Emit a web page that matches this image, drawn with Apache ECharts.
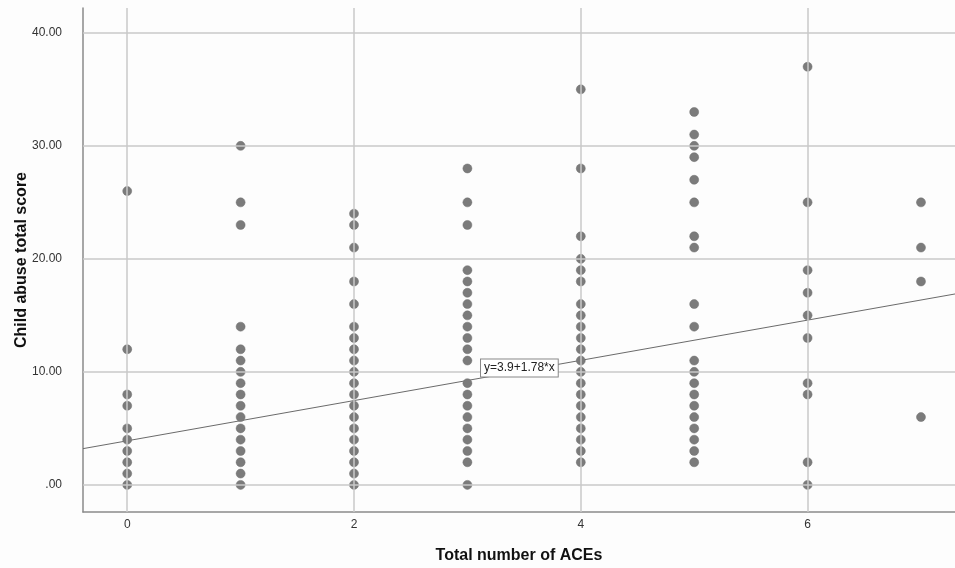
<!DOCTYPE html>
<html>
<head>
<meta charset="utf-8">
<script src="https://cdn.jsdelivr.net/npm/echarts@6/dist/echarts.min.js"></script>
<style>
  html, body { margin: 0; padding: 0; background: #fdfdfd; }
  #main { width: 955px; height: 568px; }
</style>
</head>
<body>
<div id="main"></div>
<script>
// scores, one list per number of ACEs
const aces = [0, 1, 2, 3, 4, 5, 6, 7];
const scores0 = [26, 12, 8, 7, 5, 4, 3, 2, 1, 0];
const scores1 = [30, 25, 23, 14, 12, 11, 10, 9, 8, 7, 6, 5, 4, 3, 2, 1, 0];
const scores2 = [24, 23, 21, 18, 16, 14, 13, 12, 11, 10, 9, 8, 7, 6, 5, 4, 3, 2, 1, 0];
const scores3 = [28, 25, 23, 19, 18, 17, 16, 15, 14, 13, 12, 11, 9, 8, 7, 6, 5, 4, 3, 2, 0];
const scores4 = [35, 28, 22, 20, 19, 18, 16, 15, 14, 13, 12, 11, 10, 9, 8, 7, 6, 5, 4, 3, 2];
const scores5 = [33, 31, 30, 29, 27, 25, 22, 21, 16, 14, 11, 10, 9, 8, 7, 6, 5, 4, 3, 2];
const scores6 = [37, 25, 19, 17, 15, 13, 9, 8, 2, 0];
const scores7 = [25, 21, 18, 6];
const allScores = [scores0, scores1, scores2, scores3, scores4, scores5, scores6, scores7];

// fit line from the chart's label
const intercept = 3.9;
const slope = 1.78;
const fitLabel = 'y=3.9+1.78*x';

const xTicks = [0, 2, 4, 6];
const yTicks = [0, 10, 20, 30, 40];

const xMin = -0.39, xMax = 7.3;
const yMin = -2.4, yMax = 42.2;

const points = [];
aces.forEach(function (a, i) {
  allScores[i].forEach(function (s) { points.push([a, s]); });
});

const fitLine = [[xMin, intercept + slope * xMin], [xMax, intercept + slope * xMax]];

const gridColor = '#c9c9c9';
const myChart = echarts.init(document.getElementById('main'));
myChart.setOption({
  animation: false,
  backgroundColor: '#fdfdfd',
  grid: { left: 83, right: 0, top: 8, bottom: 56, outerBoundsMode: 'none' },
  xAxis: {
    type: 'value',
    min: xMin,
    max: xMax,
    splitNumber: 4,
    name: 'Total number of ACEs',
    nameLocation: 'middle',
    nameGap: 36,
    nameMoveOverlap: false,
    nameTextStyle: { fontFamily: 'Liberation Sans', fontWeight: 'bold', fontSize: 16, color: '#111' },
    axisLine: { show: true, onZero: false, lineStyle: { color: '#8a8a8a', width: 1.5 } },
    axisTick: { show: false },
    splitLine: { show: false },
    axisLabel: {
      margin: 7,
      fontFamily: 'Liberation Sans Narrow, Liberation Sans',
      fontSize: 12,
      color: '#333',
      showMinLabel: false,
      showMaxLabel: false,
      formatter: function (v) { return xTicks.indexOf(v) >= 0 ? String(v) : ''; }
    }
  },
  yAxis: {
    type: 'value',
    min: yMin,
    max: yMax,
    splitNumber: 5,
    name: 'Child abuse total score',
    nameLocation: 'middle',
    nameGap: 53,
    nameMoveOverlap: false,
    nameTextStyle: { fontFamily: 'Liberation Sans', fontWeight: 'bold', fontSize: 16, color: '#111' },
    axisLine: { show: true, onZero: false, lineStyle: { color: '#8a8a8a', width: 1.5 } },
    axisTick: { show: false },
    splitLine: { show: false },
    axisLabel: {
      margin: 21,
      fontFamily: 'Liberation Sans Narrow, Liberation Sans',
      fontSize: 12,
      color: '#333',
      showMinLabel: false,
      showMaxLabel: false,
      formatter: function (v) {
        if (yTicks.indexOf(v) < 0) return '';
        return v === 0 ? '.00' : v.toFixed(2);
      }
    }
  },
  series: [
    {
      type: 'line',
      data: fitLine,
      symbol: 'none',
      silent: true,
      z: 3,
      lineStyle: { color: '#6a6a6a', width: 1 },
      markLine: {
        silent: true,
        symbol: 'none',
        label: { show: false },
        lineStyle: { color: gridColor, width: 1.5, type: 'solid' },
        data: xTicks.map(function (v) { return { xAxis: v }; })
          .concat(yTicks.map(function (v) { return { yAxis: v }; }))
      },
      markPoint: {
        silent: true,
        symbol: 'rect',
        symbolSize: 0,
        data: [{ coord: [3.12, 10.35] }],
        label: {
          show: true,
          position: 'right',
          distance: 0,
          formatter: fitLabel,
          fontFamily: 'Liberation Sans',
          fontSize: 12,
          color: '#222',
          backgroundColor: '#fff',
          borderColor: '#888',
          borderWidth: 1,
          padding: [3, 3, 2, 3]
        }
      }
    },
    {
      type: 'scatter',
      data: points,
      symbolSize: 9,
      z: 4,
      itemStyle: { color: '#7b7b7b', borderColor: '#6e6e6e', borderWidth: 0.5, opacity: 1 }
    }
  ]
});
</script>
</body>
</html>
